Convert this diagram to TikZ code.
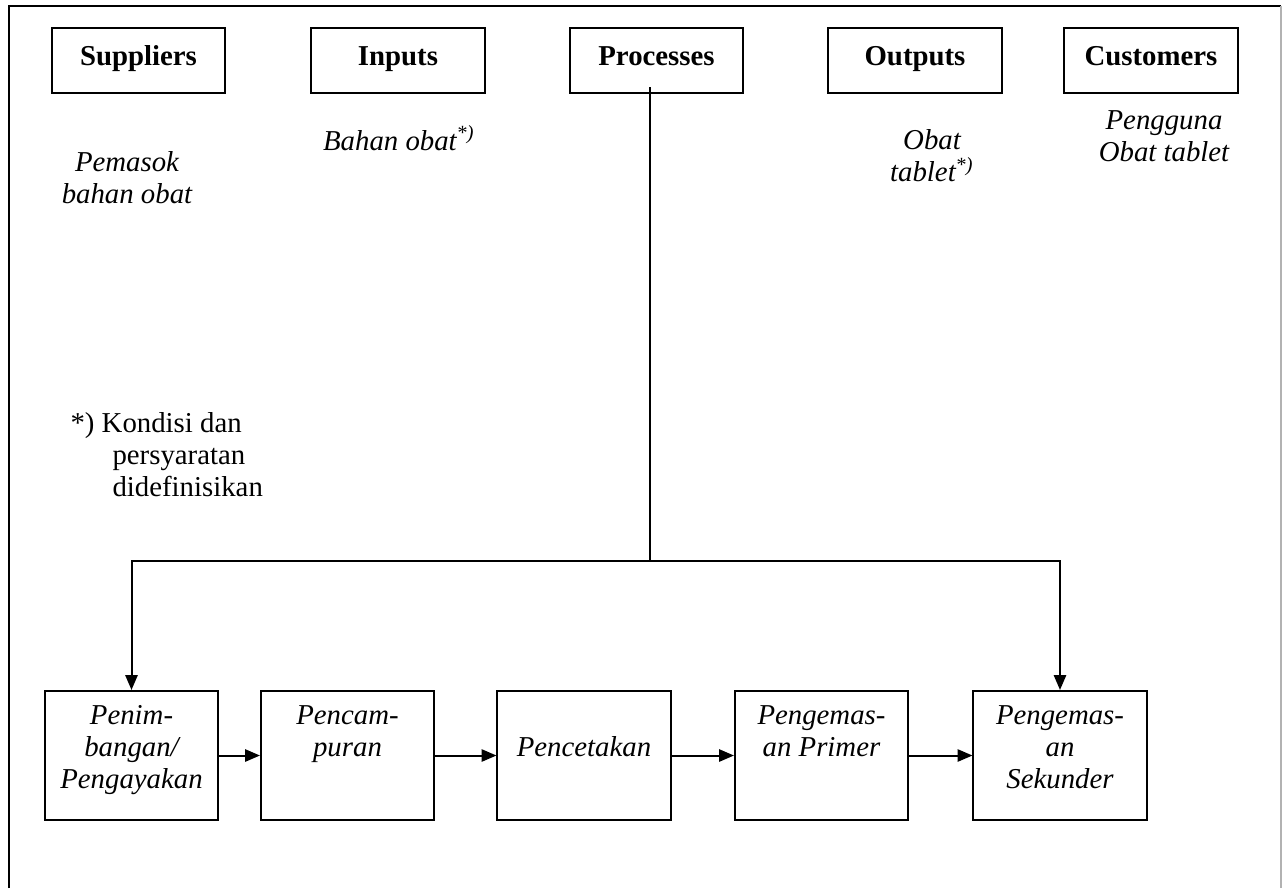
\documentclass[tikz,border=0pt]{standalone}
\usepackage{fontspec}
\setmainfont{Liberation Serif}
\usetikzlibrary{arrows.meta}
\newcommand{\steptext}[1]{\parbox[c][48.4pt][t]{64.9pt}{\centering\rule{0pt}{12.75pt}#1}}
\tikzset{
	headbox/.style={draw, line width=0.75pt, minimum width=64.9pt, minimum height=24.4pt, inner sep=0pt, text height=6.8pt, text depth=3pt, font=\bfseries},
	stepbox/.style={draw, line width=0.75pt, inner sep=0pt, font=\itshape},
	note/.style={inner sep=0pt, align=center, font=\itshape}
}
\begin{document}
\fontsize{10.8}{12}\selectfont
\begin{tikzpicture}[x=0.375pt, y=-0.375pt, >={Triangle[length=5.6pt, width=4.6pt]}]
		\useasboundingbox (0,0) rectangle (1283,888);
		% frame
		\draw[line width=0.75pt] (9,888) -- (9,6) -- (1281,6);
		\draw[line width=0.75pt, gray!60] (1281,6) -- (1281,888);
		% heads
		\node[headbox](supp) at (138.5,60.5){Suppliers};
		\node[headbox](inp) at (398,60.5){Inputs};
		\node[headbox](proc) at (656.5,60.5){Processes};
		\node[headbox](outp) at (915,60.5){Outputs};
		\node[headbox](cust) at (1151,60.5){Customers};
		\node[note](pemasok) at (127,178){Pemasok\\ bahan obat};
		\node[note, anchor=base](bahan) at (399,150){Bahan obat\textsuperscript{*)}};
		\node[note](obat) at (932,156){Obat\\ tablet\textsuperscript{*)}};
		\node[note](pengguna) at (1164,136){Pengguna\\ Obat tablet};
		\node[inner sep=0pt, anchor=base west](catatan) at (70,432){\begin{tabular}[t]{@{}l@{}}*) Kondisi dan\\ \hspace*{15.75pt}persyaratan\\ \hspace*{15.75pt}didefinisikan\end{tabular}};
		% process steps
		\node[stepbox](penim) at (131.5,755.5){\steptext{Penim-\\ bangan/\\ Pengayakan}};
		\node[stepbox](pencam) at (347.5,755.5){\steptext{Pencam-\\ puran}};
		\node[stepbox](pencet) at (584,755.5){\steptext{\\ Pencetakan}};
		\node[stepbox](primer) at (821.5,755.5){\steptext{Pengemas-\\ an Primer}};
		\node[stepbox](sekunder) at (1060,755.5){\steptext{Pengemas-\\ an\\ Sekunder}};
		\coordinate (tap) at (650,87);
		\coordinate (split) at (650,561);
		\draw [line width=0.75pt] (tap) -- (split);
		\draw [->, line width=0.75pt] (split) -| (penim);
		\draw [->, line width=0.75pt] (split) -| (sekunder);
		\draw [->, line width=0.75pt] (penim) -- (pencam);
		\draw [->, line width=0.75pt] (pencam) -- (pencet);
		\draw [->, line width=0.75pt] (pencet) -- (primer);
		\draw [->, line width=0.75pt] (primer) -- (sekunder);
	\end{tikzpicture}
\end{document}
